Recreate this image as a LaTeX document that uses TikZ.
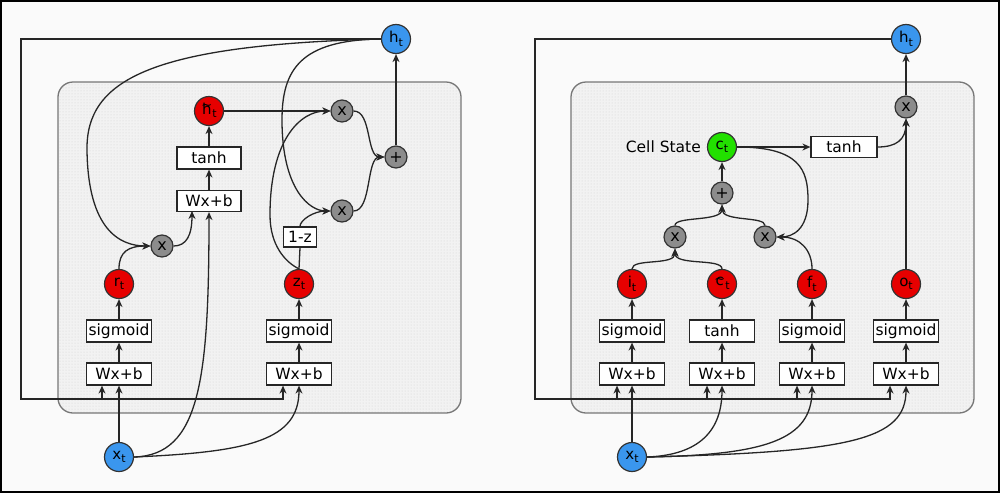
\documentclass[tikz,border=0pt]{standalone}
\usepackage{fontspec}
\setmainfont{DejaVu Sans}
\usetikzlibrary{arrows.meta,patterns}
\definecolor{bgc}{HTML}{FAFAFA}
\definecolor{panelc}{HTML}{F2F2F2}
\definecolor{panelb}{HTML}{777777}
\definecolor{blu}{HTML}{3A96EE}
\definecolor{rd}{HTML}{E60000}
\definecolor{grn}{HTML}{22E000}
\definecolor{grc}{HTML}{8C8C8C}
\newcommand\gl[2]{#1\raisebox{-3.5pt}{\fontsize{11}{11}\selectfont #2}}
\newcommand\tld[1]{\leavevmode\vbox{\offinterlineskip\halign{\hfil##\hfil\cr{\fontsize{13}{13}\selectfont\char"7E}\cr\noalign{\kern-6.5pt}#1\cr}}}
\begin{document}
\begin{tikzpicture}[x=1pt,y=-1pt,
  conn/.style={line width=1.3pt, draw=black!85},
  arr/.style={conn, -{Stealth[length=8pt,width=7pt]}},
  boxn/.style={draw=black!85, fill=white, line width=1.2pt, minimum width=65pt, minimum height=22pt, inner sep=0pt, font=\fontsize{15.5}{17}\selectfont},
  circn/.style={circle, draw=black!80, line width=1.2pt, minimum size=29pt, inner sep=0pt, font=\fontsize{15}{15}\selectfont},
  bluen/.style={circn, fill=blu},
  redn/.style={circn, fill=rd},
  greenn/.style={circn, fill=grn},
  opn/.style={circle, draw=black!80, fill=grc, line width=1.2pt, minimum size=22pt, inner sep=0pt, font=\fontsize{16}{16}\selectfont},
  panel/.style={draw=panelb, line width=1.3pt, rounded corners=15pt}
]
\useasboundingbox (0,0) rectangle (1000,493);
\draw[line width=2pt, fill=bgc] (1,1) rectangle (999,492);
% panels
\fill[panelc, rounded corners=15pt] (58,82) rectangle (461,413);
\fill[pattern=dots, pattern color=black!18, rounded corners=15pt] (58,82) rectangle (461,413);
\draw[panel] (58,82) rectangle (461,413);
\fill[panelc, rounded corners=15pt] (571,82) rectangle (974,413);
\fill[pattern=dots, pattern color=black!18, rounded corners=15pt] (571,82) rectangle (974,413);
\draw[panel] (571,82) rectangle (974,413);

% ---------- left (GRU) ----------
\node[bluen] (hL) at (396,39) {\gl{h}{t}};
\node[redn] (htil) at (209,111) {\gl{\tld{h}}{t}};
\node[boxn, minimum width=64pt] (tanhL) at (209,158) {tanh};
\node[boxn, minimum width=64pt, minimum height=21pt] (wxT) at (209,201) {Wx+b};
\node[opn] (mr) at (162,246) {x};
\node[opn] (m1) at (342,111) {x};
\node[opn] (m2) at (342,211) {x};
\node[opn] (plusL) at (396,157) {+};
\node[boxn, minimum width=33pt, minimum height=20pt] (onez) at (300,237) {1-z};
\node[redn] (rt) at (119,284) {\gl{r}{t}};
\node[redn] (zt) at (299,284) {\gl{z}{t}};
\node[boxn] (sigL1) at (119,331) {sigmoid};
\node[boxn] (sigL2) at (299,331) {sigmoid};
\node[boxn] (wxL1) at (119,374) {Wx+b};
\node[boxn] (wxL2) at (299,374) {Wx+b};
\node[bluen] (xL) at (119,457) {\gl{x}{t}};

\coordinate (fA) at (21,39);
\coordinate (fB) at (21,399);
\coordinate (fC) at (283,399);
\coordinate (fD) at (102,399);
\coordinate (wxTin) at (192,211);

\draw[arr] (hL.west) -- (fA) -- (fB) -- (fC) -- (fC |- wxL2.south);
\draw[arr] (fD) -- (fD |- wxL1.south);
\draw[arr] (xL.north) -- (wxL1.south);
\draw[arr] (wxL1) -- (sigL1);
\draw[arr] (sigL1) -- (rt);
\draw[arr] (wxL2) -- (sigL2);
\draw[arr] (sigL2) -- (zt);
\draw[arr] (wxT) -- (tanhL);
\draw[arr] (tanhL) -- (htil);
\draw[arr] (xL.east) .. controls (200,455) and (209,380) .. (wxT.south);
\draw[arr] (xL.east) .. controls (250,452) and (299,440) .. (wxL2.south);
\draw[arr] (hL.west) .. controls (150,45) and (86,80) .. (87,150) .. controls (88,230) and (120,246) .. (mr.west);
\draw[arr] (rt.north) .. controls (119,252) and (128,246) .. (mr.west);
\draw[arr] (mr.east) .. controls (186,246) and (192,236) .. (wxTin);
\draw[arr] (htil.east) -- (m1.west);
\draw[arr] (zt.north) .. controls (285,262) and (270,245) .. (270,215) .. controls (270,140) and (300,111) .. (m1.west);
\draw[conn] (zt.north) -- (onez.south);
\draw[arr] (onez.north) .. controls (300,220) and (314,211) .. (m2.west);
\draw[arr] (hL.west) .. controls (300,40) and (282,70) .. (282,120) .. controls (282,190) and (310,211) .. (m2.west);
\draw[arr] (m1.east) .. controls (372,111) and (366,157) .. (plusL.west);
\draw[arr] (m2.east) .. controls (372,211) and (366,157) .. (plusL.west);
\draw[arr] (plusL.north) -- (hL.south);

% ---------- right (LSTM) ----------
\node[bluen] (hR) at (906,39) {\gl{h}{t}};
\node[greenn] (cR) at (722,147) {\gl{c}{t}};
\node[anchor=east, font=\fontsize{15.5}{17}\selectfont, inner sep=0pt] (cs) at (701,147) {Cell State};
\node[boxn, minimum width=66pt, minimum height=21pt] (tanhR) at (844,147) {tanh};
\node[opn] (moR) at (906,107) {x};
\node[opn] (plusR) at (722,193) {+};
\node[opn] (mi) at (675,237) {x};
\node[opn] (mf) at (765,237) {x};
\node[redn] (it) at (632,284) {\gl{i}{t}};
\node[redn] (ctil) at (722,284) {\gl{\tld{c}}{t}};
\node[redn] (ft) at (812,284) {\gl{f}{t}};
\node[redn] (ot) at (906,284) {\gl{o}{t}};
\node[boxn] (sR1) at (632,331) {sigmoid};
\node[boxn] (sR2) at (722,331) {tanh};
\node[boxn] (sR3) at (812,331) {sigmoid};
\node[boxn] (sR4) at (906,331) {sigmoid};
\node[boxn] (wR1) at (632,374) {Wx+b};
\node[boxn] (wR2) at (722,374) {Wx+b};
\node[boxn] (wR3) at (812,374) {Wx+b};
\node[boxn] (wR4) at (906,374) {Wx+b};
\node[bluen] (xR) at (632,457) {\gl{x}{t}};

\coordinate (gA) at (535,39);
\coordinate (gB) at (535,399);
\coordinate (gC) at (890,399);
\coordinate (g1) at (617,399);
\coordinate (g2) at (707,399);
\coordinate (g3) at (797,399);

\draw[arr] (hR.west) -- (gA) -- (gB) -- (gC) -- (gC |- wR4.south);
\draw[arr] (g1) -- (g1 |- wR1.south);
\draw[arr] (g2) -- (g2 |- wR2.south);
\draw[arr] (g3) -- (g3 |- wR3.south);
\draw[arr] (xR.north) -- (wR1.south);
\draw[arr] (xR.east) .. controls (700,455) and (722,430) .. (wR2.south);
\draw[arr] (xR.east) .. controls (765,455) and (812,440) .. (wR3.south);
\draw[arr] (xR.east) .. controls (850,452) and (906,440) .. (wR4.south);
\foreach \a/\b in {wR1/sR1,wR2/sR2,wR3/sR3,wR4/sR4,sR1/it,sR2/ctil,sR3/ft,sR4/ot}
  \draw[arr] (\a) -- (\b);
\draw[arr] (it.north) .. controls (632,258) and (675,266) .. (mi.south);
\draw[arr] (ctil.north) .. controls (722,258) and (675,266) .. (mi.south);
\draw[arr] (mi.north) .. controls (675,216) and (722,222) .. (plusR.south);
\draw[arr] (mf.north) .. controls (765,216) and (722,222) .. (plusR.south);
\draw[arr] (plusR.north) -- (cR.south);
\draw[arr] (cR.east) -- (tanhR.west);
\draw[arr] (cR.east) .. controls (800,147) and (808,170) .. (808,200) .. controls (808,230) and (792,237) .. (mf.east);
\draw[arr] (ft.north) .. controls (812,250) and (800,237) .. (mf.east);
\draw[arr] (tanhR.east) .. controls (896,147) and (906,140) .. (moR.south);
\draw[arr] (ot.north) -- (moR.south);
\draw[arr] (moR.north) -- (hR.south);
\end{tikzpicture}
\end{document}
